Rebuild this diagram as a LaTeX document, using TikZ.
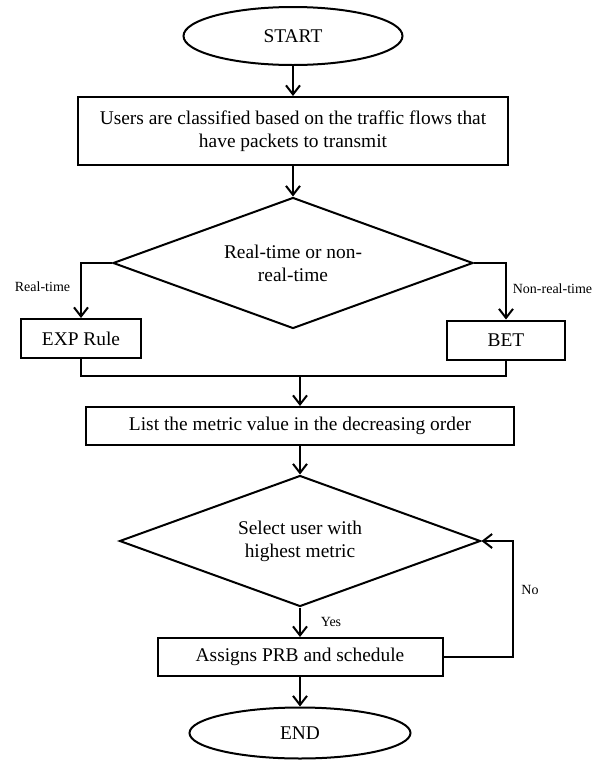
\documentclass[tikz,border=0pt]{standalone}
\usepackage{fontspec}
\setmainfont{Liberation Serif}
\usetikzlibrary{shapes.geometric,arrows.meta}

\begin{document}
\begin{tikzpicture}[x=1pt,y=1pt]
        \tikzstyle{every node}+=[inner sep=0pt, font=\fontsize{19.4}{23}\selectfont]
        \tikzstyle{terminal}=[draw, ellipse, line width=2pt]
        \tikzstyle{process}=[draw, rectangle, line width=2pt, align=center]
        \tikzstyle{decision}=[draw, diamond, aspect=2.7, line width=2pt, align=center]
        \tikzstyle{arr}=[line width=2pt, -{Straight Barb[length=9pt,width=14pt]}]
        \tikzstyle{link}=[line width=2pt]
        \tikzstyle{tag}=[font=\fontsize{14}{16}\selectfont]
        \useasboundingbox (0,0) rectangle (602,-761);
        \node [terminal, minimum width=219pt, minimum height=58pt] (start) at (293,-36) {START};
        \node [process, minimum width=430pt, minimum height=68pt] (classify) at (293,-131) {Users are classified based on the traffic flows that\\have packets to transmit};
        \node [decision, minimum width=360pt, minimum height=131pt] (kind) at (293,-263) {Real-time or non-\\real-time};
        \node [process, minimum width=120pt, minimum height=39pt] (exp) at (81,-338.5) {EXP Rule};
        \node [process, minimum width=118pt, minimum height=39pt] (bet) at (506,-340) {BET};
        \node [process, minimum width=428pt, minimum height=38pt] (order) at (300,-426) {List the metric value in the decreasing order};
        \node [decision, minimum width=361pt, minimum height=131pt] (select) at (300,-541) {Select user with\\highest metric};
        \node [process, minimum width=285pt, minimum height=38pt] (assign) at (300,-657) {Assigns PRB and schedule};
        \node [terminal, minimum width=221pt, minimum height=51pt] (stop) at (300,-733) {END};
        \node [tag] (rt) at (42.5,-287) {Real-time};
        \node [tag] (nrt) at (552.5,-289) {Non-real-time};
        \node [tag] (yes) at (331,-622) {Yes};
        \node [tag] (no) at (530,-590) {No};
        \coordinate (merge) at (300,-376);
        \coordinate (back) at (513,-600);
        \draw [arr] (start) -- (classify);
        \draw [arr] (classify) -- (kind);
        \draw [arr] (kind.west) -| (exp.north);
        \draw [arr] (kind.east) -| (bet.north);
        \draw [link] (exp.south) |- (merge) -| (bet.south);
        \draw [arr] (merge) -- (order);
        \draw [arr] (order) -- (select);
        \draw [arr] (select) -- (assign);
        \draw [arr] (assign) -- (stop);
        \draw [arr] (assign.east) -| (back) |- (select.east);
\end{tikzpicture}
\end{document}
